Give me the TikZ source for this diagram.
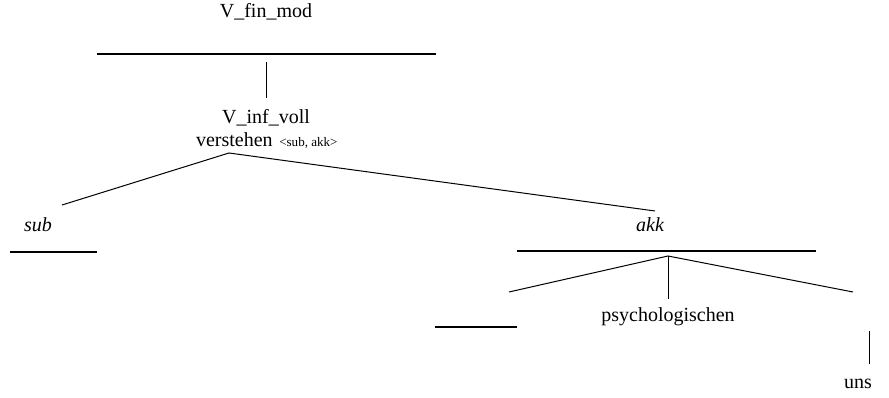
\documentclass[tikz,border=0pt]{standalone}
\usepackage{fontspec}
\setmainfont{Liberation Serif}
\begin{document}
\begin{tikzpicture}[x=0.75pt,y=-0.75pt,
  lbl/.style={inner sep=0pt,font=\fontsize{15}{17}\selectfont},
  slot/.style={line width=1.5pt},
  edge/.style={line width=0.75pt}]
\useasboundingbox (0,0) rectangle (889,398);
% texts
\node[lbl,anchor=base] (vfin) at (266,18) {V\_fin\_mod};
\node[lbl,anchor=base] (vinf) at (266,124) {V\_inf\_voll};
\node[lbl,anchor=base east] (verst) at (273,147) {verstehen};
\node[inner sep=0pt,anchor=base west,font=\fontsize{9.8}{11}\selectfont] (val) at (279,147) {<sub, akk>};
\node[lbl,anchor=base,font=\fontsize{15}{17}\selectfont\itshape] (sub) at (38,232) {sub};
\node[lbl,anchor=base,font=\fontsize{15}{17}\selectfont\itshape] (akk) at (650,232) {akk};
\node[lbl,anchor=base] (psy) at (668,322) {psychologischen};
\node[lbl,anchor=base] (uns) at (858,389) {uns};
% slots
\coordinate (t1) at (97,54); \coordinate (t2) at (436,54);
\coordinate (s1) at (10,252); \coordinate (s2) at (97,252);
\coordinate (a1) at (517,251); \coordinate (a2) at (816,251);
\coordinate (b1) at (435,327); \coordinate (b2) at (517,327);
\draw[slot] (t1) -- (t2);
\draw[slot] (s1) -- (s2);
\draw[slot] (a1) -- (a2);
\draw[slot] (b1) -- (b2);
% branches
\coordinate (v0) at (266,62); \coordinate (v1) at (266,98);
\draw[edge] (v0) -- (v1);
\coordinate (apex) at (229,153);
\coordinate (subend) at (62,205);
\coordinate (akkend) at (655,211);
\draw[edge] (subend) -- (apex) -- (akkend);
\coordinate (apex2) at (668,256);
\coordinate (l2) at (509,292);
\coordinate (m2) at (668,299);
\coordinate (r2) at (853,292);
\draw[edge] (l2) -- (apex2) -- (r2);
\draw[edge] (apex2) -- (m2);
\coordinate (u0) at (869,331); \coordinate (u1) at (869,364);
\draw[edge] (u0) -- (u1);
\end{tikzpicture}
\end{document}
